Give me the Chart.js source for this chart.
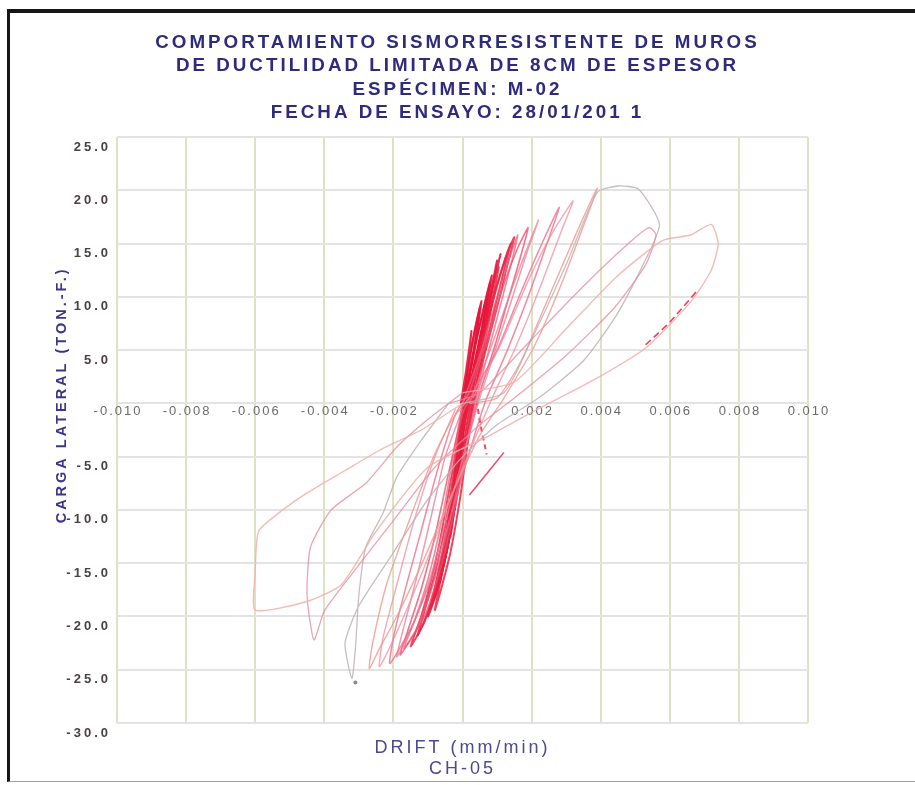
<!DOCTYPE html>
<html>
<head>
<meta charset="utf-8">
<script src="https://cdn.jsdelivr.net/npm/chart.js"></script>
<style>
  html, body { margin: 0; padding: 0; background: #fff; }
  #wrap { position: relative; width: 915px; height: 785px; overflow: hidden; }
  #wrap canvas { position: absolute; left: 0; top: 0; }
  /* scanned frame round the figure */
  #frame { position: absolute; left: 7px; top: 9px; right: -10px; bottom: 3px;
           border-top: 4px solid #161616; border-left: 3px solid #161616;
           border-bottom: 1px solid #a0a0a0; pointer-events: none; }
</style>
</head>
<body>
<div id="wrap">
  <canvas id="chart" width="915" height="785"></canvas>
  <div id="frame"></div>
</div>
<script>
/* =====  data (drift, lateral load in ton-f)  ===== */
const titleLines = [
  'COMPORTAMIENTO SISMORRESISTENTE DE MUROS',
  'DE DUCTILIDAD LIMITADA DE 8CM DE ESPESOR',
  'ESPÉCIMEN: M-02',
  'FECHA DE ENSAYO: 28/01/201 1'
];
const xTitle = ['DRIFT (mm/min)', 'CH-05'];
const yTitle = 'CARGA LATERAL (TON.-F.)';

const driftTicks = [-0.010, -0.008, -0.006, -0.004, -0.002, 0, 0.002, 0.004, 0.006, 0.008, 0.010];
const loadTicks  = [25, 20, 15, 10, 5, 0, -5, -10, -15, -20, -25, -30];

const loop1  = [[-0.00005,0],[0.0001,3],[0.0002,5.3],[0.00026,6.8],[0.00022,5.5],[0.00012,3],[0.00002,0],[-0.00008,-4],[-0.00016,-7.5],[-0.00022,-10],[-0.00016,-7.5],[-0.0001,-4],[-0.00004,-1]];
const loop2  = [[-0.00004,-1],[0.0001,2],[0.00025,5],[0.0004,7.5],[0.0005,9],[0.00045,7.5],[0.00032,5],[0.00016,2],[0.00002,-1],[-0.0001,-5],[-0.00022,-9],[-0.0004,-13],[-0.0003,-10],[-0.00018,-6.5],[-0.00005,-2.5],[0.00002,0]];
const loop2b = [[0.00002,0],[0.00015,3],[0.0003,6],[0.00045,8.3],[0.00055,9.6],[0.00048,8],[0.00036,5.5],[0.0002,2.5],[0.00005,-1],[-0.00005,-4.5],[-0.00018,-8.5],[-0.00035,-12.5],[-0.00025,-9.5],[-0.00012,-5.5],[0,-1.5],[0.0001,1]];
const loop3  = [[0.0001,1],[0.0003,4.5],[0.00055,8],[0.0007,10],[0.0008,11.3],[0.0007,9.5],[0.00052,6.5],[0.0003,3],[0.0001,-0.5],[-0.00005,-4.5],[-0.0002,-9],[-0.0004,-13],[-0.0006,-16],[-0.00045,-13],[-0.0003,-9.5],[-0.00015,-5.5],[0,-1.5],[0.0001,0.5]];
const loop3b = [[0.0001,0.5],[0.00035,5],[0.0006,8.8],[0.00085,12],[0.00075,10.2],[0.00058,7.2],[0.00035,3.5],[0.00012,0],[-0.00004,-4],[-0.0002,-8.5],[-0.00042,-13.2],[-0.00065,-16.8],[-0.0005,-14],[-0.00032,-10],[-0.00016,-6],[0,-2],[0.0001,0]];
const loop4  = [[0.0001,0],[0.0004,4.5],[0.0007,8.8],[0.0009,11.8],[0.001,13.4],[0.0009,11.5],[0.0007,8],[0.00045,4],[0.0002,0.5],[0,-3.5],[-0.0002,-8.5],[-0.0004,-13],[-0.00065,-16.5],[-0.0009,-19],[-0.0007,-16.5],[-0.0005,-13],[-0.0003,-9],[-0.0001,-4],[0.0001,0]];
const loop4b = [[0.00012,0.5],[0.0005,5.5],[0.0008,9.8],[0.0011,14],[0.00095,12],[0.00072,8.2],[0.00045,3.8],[0.0002,-0.5],[-0.00002,-5],[-0.00025,-10],[-0.0005,-14.5],[-0.00075,-17.8],[-0.001,-20],[-0.00078,-17],[-0.00055,-13.5],[-0.0003,-8.5],[-0.0001,-3.5],[0.0001,0]];
const loop4c = [[0.0002,0],[0.00055,5],[0.00085,9.5],[0.00105,12.8],[0.00095,11],[0.00075,7.5],[0.0005,3.5],[0.00028,-0.5],[0.0001,-5],[-0.0001,-9.5],[-0.00035,-14],[-0.0006,-17.2],[-0.0008,-19.4],[-0.0006,-16],[-0.0004,-12],[-0.0002,-7],[0,-2.5],[0.0002,0]];
const loop5  = [[0.0001,0],[0.0005,5],[0.0009,10],[0.0012,13.2],[0.0014,15],[0.0012,12.5],[0.0009,8.5],[0.0006,4.5],[0.0003,0.5],[0.0001,-3.5],[-0.0002,-9.5],[-0.0005,-14.5],[-0.0009,-18.8],[-0.0013,-21.8],[-0.0011,-19.5],[-0.0008,-16],[-0.0005,-11.5],[-0.0002,-5.5],[0.0001,0]];
const loop5b = [[0.00015,0.5],[0.0006,6],[0.001,11],[0.0013,14.2],[0.0015,15.6],[0.0013,13],[0.001,9],[0.0006,4],[0.0003,-0.5],[0,-5],[-0.0003,-11],[-0.0007,-16.5],[-0.0011,-20.5],[-0.0015,-22.8],[-0.0012,-20],[-0.0009,-16.5],[-0.0006,-12],[-0.0003,-6.5],[0,-1],[0.0002,1]];
const loop6  = [[0.0002,1],[0.0007,6],[0.0012,11.2],[0.0016,14.6],[0.0019,16.5],[0.0017,14],[0.0013,9.5],[0.0009,5],[0.0005,1],[0.0002,-3],[-0.0002,-9.5],[-0.0006,-15],[-0.0011,-20],[-0.0018,-23.6],[-0.0016,-21.5],[-0.0012,-17.5],[-0.0008,-12.5],[-0.0004,-6.5],[0,-1],[0.0003,1]];
const loop12 = [[0.0002,0],[0.0008,5],[0.0014,10.5],[0.0019,14.8],[0.0022,17.2],[0.0019,14.5],[0.0014,9.5],[0.0009,4.5],[0.0005,0.5],[0.0001,-4],[-0.0004,-10],[-0.0009,-16],[-0.0014,-20.5],[-0.0019,-23.8],[-0.0017,-21],[-0.0013,-16],[-0.0009,-10.5],[-0.0005,-5],[0,-0.5]];
const loop14 = [[0,0],[0.0005,4.5],[0.001,10],[0.0014,14],[0.0016,15.8],[0.0014,13],[0.001,8],[0.0006,3],[0.0003,-1],[0,-5.5],[-0.0004,-11.5],[-0.0009,-17.5],[-0.0013,-21],[-0.0017,-23],[-0.0014,-20.5],[-0.001,-16.5],[-0.0006,-11],[-0.0003,-5.5],[0,0]];
const loop7  = [[0.0003,1],[0.001,5],[0.0017,10.5],[0.0023,15],[0.0028,18.4],[0.0025,15.5],[0.0019,10],[0.0013,5],[0.0007,0.5],[0.0003,-3.5],[-0.0002,-9],[-0.0008,-15.5],[-0.0014,-20.5],[-0.0021,-24.4],[-0.002,-22],[-0.0017,-18],[-0.0012,-12],[-0.0007,-6],[-0.0002,-1],[0.0002,1]];
const loop13 = [[0.0003,0.5],[0.0011,5.5],[0.0019,11.5],[0.0026,16],[0.0032,19],[0.0029,16.5],[0.0022,10.5],[0.0015,5],[0.0009,0.8],[0.0004,-3],[-0.0003,-8.5],[-0.001,-14.5],[-0.0017,-20],[-0.0024,-24.7],[-0.0023,-22],[-0.0019,-17],[-0.0014,-11],[-0.0008,-5],[-0.0002,-0.5]];
const loop8  = [[0.0002,0],[0.001,0.5],[0.0017,4],[0.0025,10],[0.0033,16],[0.0039,20.2],[0.0036,17.5],[0.0029,11.5],[0.0021,5.5],[0.0012,0.5],[0.0005,-3],[-0.0003,-8.5],[-0.0011,-14.5],[-0.0019,-20],[-0.0024,-23],[-0.0027,-24.9],[-0.0026,-22.5],[-0.0022,-17],[-0.0016,-11.5],[-0.0009,-5.5],[-0.0003,-1.5],[0.0002,0.5]];
const loop9  = [[0,0],[0.0012,1],[0.002,6],[0.003,13],[0.0039,19.8],[0.0045,20.4],[0.0051,20.1],[0.0057,16.8],[0.0053,13.5],[0.0045,8.5],[0.0035,4],[0.0022,0.5],[0.001,-2],[0,-5],[-0.001,-9],[-0.002,-14],[-0.003,-19],[-0.0034,-22.5],[-0.0032,-25.8],[-0.0031,-23],[-0.003,-18],[-0.0028,-13.5],[-0.0023,-10.3],[-0.0019,-6.9],[-0.0012,-3.5],[-0.0004,0]];
const loop10 = [[-0.0004,0],[0.0005,1],[0.002,6],[0.0035,11],[0.0048,15],[0.0054,16.5],[0.0056,15.8],[0.0053,13],[0.0044,9],[0.003,4.5],[0.0015,0.5],[0.0005,-2],[-0.0008,-6],[-0.002,-11],[-0.0032,-16],[-0.004,-19.5],[-0.0043,-22.2],[-0.0045,-18],[-0.0044,-13.5],[-0.0038,-10],[-0.0028,-7.5],[-0.0019,-4.1],[-0.001,-1.5],[0,1]];
const loop11 = [[0,1],[0.0015,2],[0.003,7],[0.0045,12],[0.0058,15.3],[0.0066,15.8],[0.0072,16.8],[0.0074,15],[0.0072,12.5],[0.0066,9.5],[0.0053,5.2],[0.0038,2.2],[0.0022,-0.5],[0.0008,-3],[-0.001,-6],[-0.0025,-12],[-0.0035,-17],[-0.0045,-18.6],[-0.006,-19.4],[-0.006,-16],[-0.0059,-12],[-0.0052,-10],[-0.0045,-8.4],[-0.0034,-6.3],[-0.0024,-4.4],[-0.0012,-2.5],[0,0]];
const redTrace  = [[0.0053,5.5],[0.006,7.6],[0.0068,10.6]];
const redTrace2 = [[0.0002,-8.6],[0.0007,-6.6],[0.0012,-4.6]];
const redTrace3 = [[0.0004,0.3],[0.00055,-2.5],[0.0007,-4.8]];
const lowDot    = [[-0.0031,-26.2]];

/* =====  styles per loop  ===== */
const loops = [
  { data: loop11, color: 'rgba(240,175,170,0.85)', width: 1.4 },
  { data: loop10, color: 'rgba(228,135,155,0.75)', width: 1.3 },
  { data: loop9,  color: 'rgba(190,178,182,0.85)', width: 1.3 },
  { data: loop8,  color: 'rgba(240,150,140,0.8)',  width: 1.4 },
  { data: loop13, color: 'rgba(240,140,160,0.75)', width: 1.4 },
  { data: loop7,  color: 'rgba(236,110,140,0.8)',  width: 1.5 },
  { data: loop12, color: 'rgba(238,120,150,0.75)', width: 1.5 },
  { data: loop6,  color: 'rgba(235,80,110,0.8)',   width: 1.6 },
  { data: loop14, color: 'rgba(236,95,125,0.75)',  width: 1.6 },
  { data: loop5b, color: 'rgba(232,40,72,0.85)',   width: 1.9 },
  { data: loop5,  color: 'rgba(232,30,65,0.85)',   width: 1.9 },
  { data: loop4c, color: 'rgba(232,35,68,0.85)',   width: 2 },
  { data: loop4b, color: 'rgba(230,25,60,0.9)',    width: 2 },
  { data: loop4,  color: 'rgba(230,20,55,0.9)',    width: 2 },
  { data: loop3b, color: 'rgba(230,20,55,0.9)',    width: 2 },
  { data: loop3,  color: 'rgba(230,20,55,0.9)',    width: 2 },
  { data: loop2b, color: 'rgba(230,20,55,0.9)',    width: 2 },
  { data: loop2,  color: 'rgba(230,20,55,0.9)',    width: 2 },
  { data: loop1,  color: 'rgba(230,20,55,0.9)',    width: 2 }
];

const toPts = arr => arr.map(([x, y]) => ({ x, y }));

const datasets = loops.map(l => ({
  data: toPts(l.data), borderColor: l.color, borderWidth: l.width,
  showLine: true, pointRadius: 0, tension: 0.2, fill: false
}));
datasets.push({ data: toPts(redTrace), borderColor: '#e8405a', borderWidth: 1.6, borderDash: [7, 4],
                showLine: true, pointRadius: 0, fill: false });
datasets.push({ data: toPts(redTrace2), borderColor: '#ee4a66', borderWidth: 1.5,
                showLine: true, pointRadius: 0, fill: false });
datasets.push({ data: toPts(redTrace3), borderColor: '#ee4a66', borderWidth: 2, borderDash: [5, 4],
                showLine: true, pointRadius: 0, fill: false });
datasets.push({ data: toPts(lowDot), showLine: false, pointRadius: 2,
                pointBackgroundColor: '#8a8a8a', pointBorderWidth: 0 });

/* =====  plugins  ===== */
// the scan is wide-set: letter spacing on every canvas text
const spacing = { id: 'spacing', beforeDraw(chart) { chart.ctx.letterSpacing = '3px'; } };

// drift labels sit on the zero-load line, under the curves
const driftLabels = {
  id: 'driftLabels',
  beforeDatasetsDraw(chart) {
    const { ctx, scales: { x, y } } = chart;
    const y0 = y.getPixelForValue(0) + 8;
    ctx.save();
    ctx.font = '13px "Liberation Sans", Arial, sans-serif';
    ctx.letterSpacing = '2px';
    ctx.fillStyle = '#6b6b6b';
    ctx.textAlign = 'center';
    ctx.textBaseline = 'middle';
    driftTicks.forEach(v => { if (v !== 0) ctx.fillText(v.toFixed(3), x.getPixelForValue(v) + 1, y0); });
    ctx.restore();
  }
};

Chart.defaults.font.family = '"Liberation Sans", Arial, sans-serif';

new Chart(document.getElementById('chart'), {
  type: 'scatter',
  data: { datasets },
  plugins: [spacing, driftLabels],
  options: {
    responsive: false,
    animation: false,
    layout: { padding: 0 },
    plugins: {
      legend: { display: false },
      tooltip: { enabled: false },
      title: {
        display: true, text: titleLines, color: '#2e2b7c',
        font: { size: 18.8, weight: 'bold', lineHeight: 1.25 },
        padding: { top: 31, bottom: 12 }
      }
    },
    scales: {
      x: {
        type: 'linear', min: -0.010, max: 0.010,
        afterBuildTicks: s => { s.ticks = driftTicks.map(v => ({ value: v })); },
        afterFit: s => { s.height = 62; },
        ticks: { display: false },
        grid: { color: 'rgba(218,222,190,0.9)', lineWidth: 2, drawTicks: false },
        border: { display: false },
        title: { display: true, text: xTitle, color: '#4d4890',
                 font: { size: 18, lineHeight: 1.2 }, padding: { top: 0, bottom: 5 } }
      },
      y: {
        type: 'linear', min: -30, max: 25,
        afterBuildTicks: s => { s.ticks = loadTicks.map(v => ({ value: v })); },
        afterFit: s => { s.width = 117; },
        ticks: {
          color: '#4a4040', font: { size: 13, weight: 'bold' }, padding: 6, labelOffset: 10,
          callback: v => v === 0 ? '' : v.toFixed(1)
        },
        grid: { color: '#e3e3e3', lineWidth: 2, drawTicks: false },
        border: { display: false },
        // leading blanks lift the rotated title a little, as in the scan
        title: { display: true, text: '\u00a0'.repeat(10) + yTitle, color: '#3d3688',
                 font: { size: 14.5, weight: 'bold', lineHeight: 1.2 }, padding: { top: 53, bottom: 0 } }
      },
      // empty right-hand band so the plot ends where the scan's does
      yRight: {
        type: 'linear', position: 'right', min: -30, max: 25,
        afterFit: s => { s.width = 107; },
        ticks: { display: false },
        grid: { display: false },
        border: { display: false }
      }
    }
  }
});
</script>
</body>
</html>
